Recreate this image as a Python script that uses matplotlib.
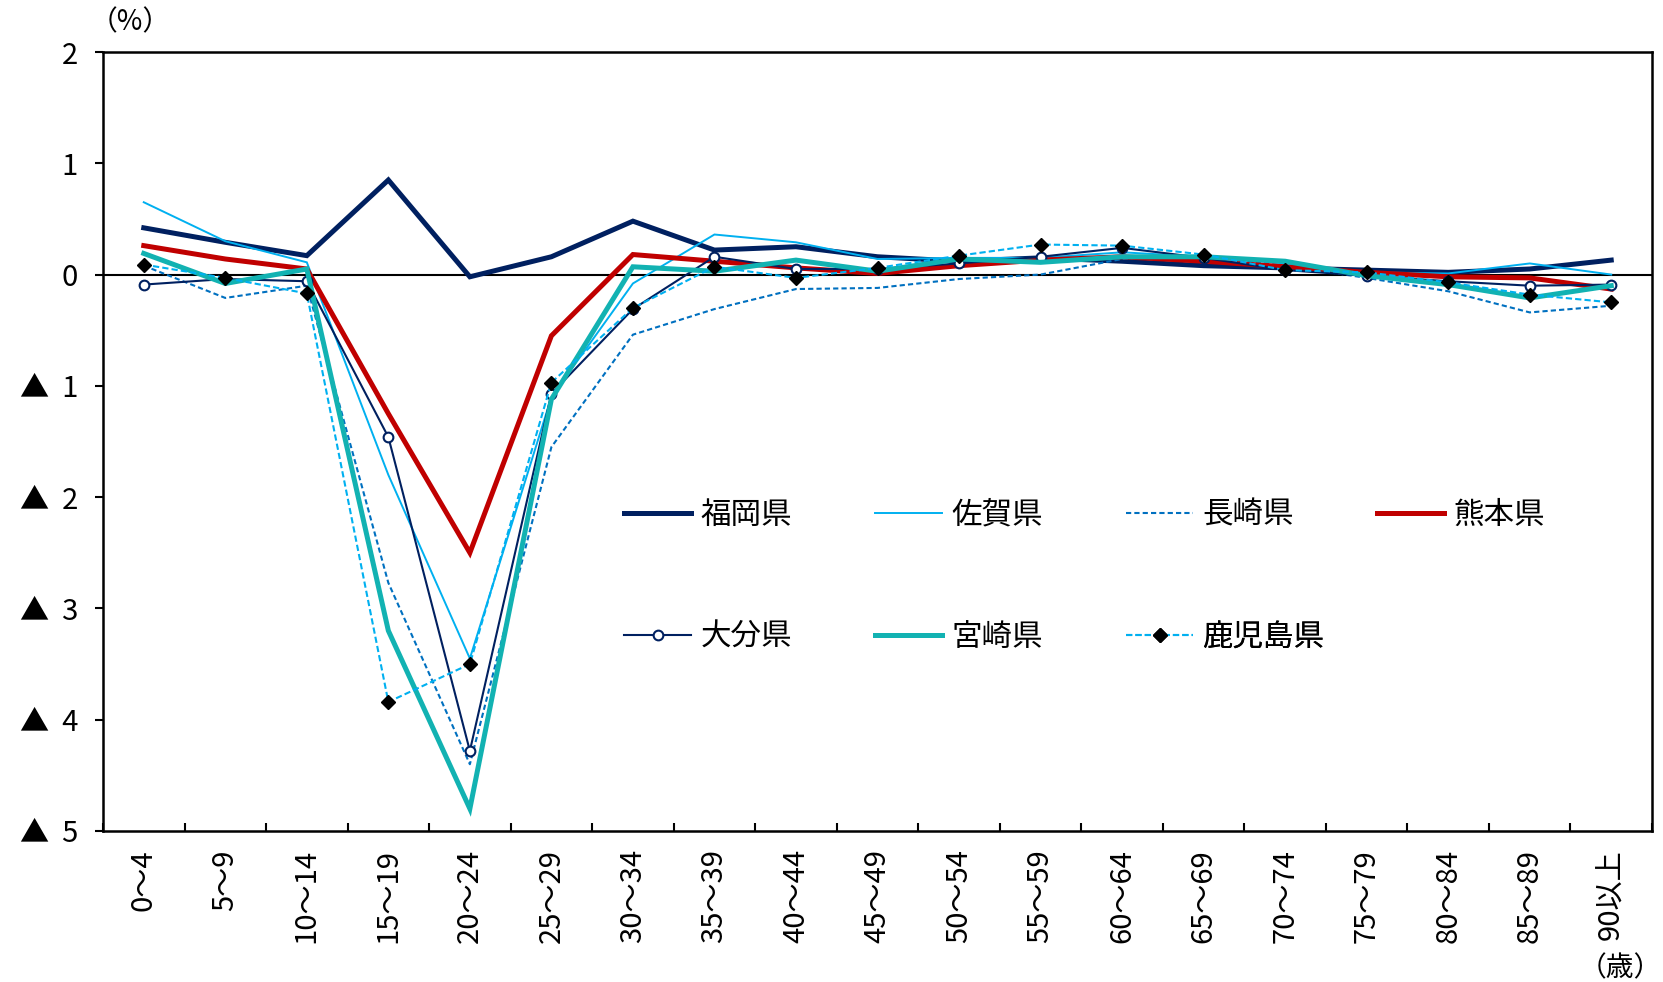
import matplotlib
matplotlib.use('Agg')
import matplotlib.pyplot as plt
import numpy as np

plt.rcParams['font.family'] = ['Noto Sans CJK JP', 'DejaVu Sans']

# ---- data ----
categories = ['0～4', '5～9', '10～14', '15～19', '20～24', '25～29', '30～34',
              '35～39', '40～44', '45～49', '50～54', '55～59', '60～64',
              '65～69', '70～74', '75～79', '80～84', '85～89', '90以上']

fukuoka = [0.42, 0.29, 0.17, 0.85, -0.02, 0.16, 0.48, 0.22, 0.25, 0.16,
           0.12, 0.15, 0.12, 0.08, 0.06, 0.04, 0.02, 0.05, 0.13]
saga = [0.65, 0.30, 0.11, -1.80, -3.45, -1.10, -0.08, 0.36, 0.29, 0.14,
        0.15, 0.15, 0.20, 0.16, 0.10, 0.02, 0.01, 0.10, 0.00]
nagasaki = [0.08, -0.21, -0.10, -2.77, -4.40, -1.55, -0.54, -0.31, -0.13, -0.12,
            -0.04, 0.00, 0.14, 0.16, 0.08, -0.03, -0.15, -0.34, -0.28]
kumamoto = [0.26, 0.14, 0.05, -1.25, -2.50, -0.55, 0.18, 0.12, 0.06, 0.01,
            0.08, 0.13, 0.16, 0.12, 0.07, 0.02, -0.02, -0.03, -0.13]
oita = [-0.09, -0.04, -0.06, -1.46, -4.28, -1.07, -0.31, 0.16, 0.05, 0.05,
        0.10, 0.16, 0.24, 0.15, 0.04, -0.01, -0.06, -0.10, -0.09]
miyazaki = [0.19, -0.08, 0.05, -3.20, -4.80, -1.12, 0.07, 0.03, 0.13, 0.03,
            0.14, 0.11, 0.16, 0.16, 0.12, -0.01, -0.09, -0.21, -0.10]
kagoshima = [0.09, -0.03, -0.17, -3.84, -3.50, -0.97, -0.30, 0.07, -0.03, 0.06,
             0.17, 0.27, 0.26, 0.18, 0.04, 0.02, -0.07, -0.18, -0.25]

series_names = ['福岡県', '佐賀県', '長崎県', '熊本県', '大分県', '宮崎県', '鹿児島県']
series_values = [fukuoka, saga, nagasaki, kumamoto, oita, miyazaki, kagoshima]

yticks = [2, 1, 0, -1, -2, -3, -4, -5]
ytick_labels = ['2', '1', '0', '▲  1', '▲  2', '▲  3', '▲  4', '▲  5']

# ---- styles ----
styles = [
    dict(color='#002060', lw=3.6, ls='-'),
    dict(color='#00B0F0', lw=1.4, ls='-'),
    dict(color='#0070C0', lw=1.5, ls=(0, (2.5, 1.5))),
    dict(color='#C00000', lw=3.6, ls='-'),
    dict(color='#002060', lw=1.5, ls='-', marker='o', ms=7, mfc='white',
         mec='#002060', mew=1.5),
    dict(color='#12B2B2', lw=3.6, ls='-'),
    dict(color='#00B0F0', lw=1.5, ls=(0, (3, 1.5)), marker='D', ms=7,
         mfc='black', mec='black'),
]

W, H = 1663, 982
fig = plt.figure(figsize=(W / 100, H / 100), dpi=100)
ax_l, ax_r, ax_t, ax_b = 103, 1652, 52, 831
ax = fig.add_axes([ax_l / W, 1 - ax_b / H, (ax_r - ax_l) / W, (ax_b - ax_t) / H])

x = np.arange(len(categories))
lines = []
for name, vals, st in zip(series_names, series_values, styles):
    ln, = ax.plot(x, vals, label=name, solid_joinstyle='miter', **st)
    lines.append(ln)

ax.axhline(0, color='black', lw=1.5, zorder=1.5)

ax.set_xlim(-0.5, len(categories) - 0.5)
ax.set_ylim(-5, 2)

ax.set_yticks(yticks)
ax.set_yticklabels(ytick_labels, fontsize=21)
ax.tick_params(axis='y', direction='out', length=6, width=1.5, pad=12)

ax.set_xticks(np.arange(len(categories) + 1) - 0.5)
ax.set_xticklabels([])
ax.tick_params(axis='x', which='major', direction='in', length=6, width=1.5)
ax.set_xticks(x, minor=True)
ax.set_xticklabels(categories, minor=True, rotation=90, fontsize=21)
ax.tick_params(axis='x', which='minor', length=0, pad=13)

for sp in ax.spines.values():
    sp.set_linewidth(1.8)
    sp.set_color('black')

# legend: each entry placed in a grid (4 columns, 2 rows)
col_x = [(624 - ax_l) / (ax_r - ax_l), (875 - ax_l) / (ax_r - ax_l),
         (1126 - ax_l) / (ax_r - ax_l), (1377 - ax_l) / (ax_r - ax_l)]
row_y = [(ax_b - 515) / (ax_b - ax_t), (ax_b - 637) / (ax_b - ax_t)]
order = [(0, 0), (0, 1), (0, 2), (0, 3), (1, 0), (1, 1), (1, 2)]
for ln, (r, c) in zip(lines, order):
    lg = ax.legend([ln], [ln.get_label()], loc='center left',
                   bbox_to_anchor=(col_x[c], row_y[r]), frameon=False,
                   fontsize=22, handlelength=2.2, handletextpad=0.3,
                   borderpad=0, borderaxespad=0)
    ax.add_artist(lg)

fig.text(90 / W, 1 - 22 / H, '（%）', fontsize=20, ha='left', va='center')
fig.text(1662 / W, 1 - 968 / H, '（歳）', fontsize=20, ha='right', va='center')

fig.savefig('out.png', dpi=100, facecolor='white')
